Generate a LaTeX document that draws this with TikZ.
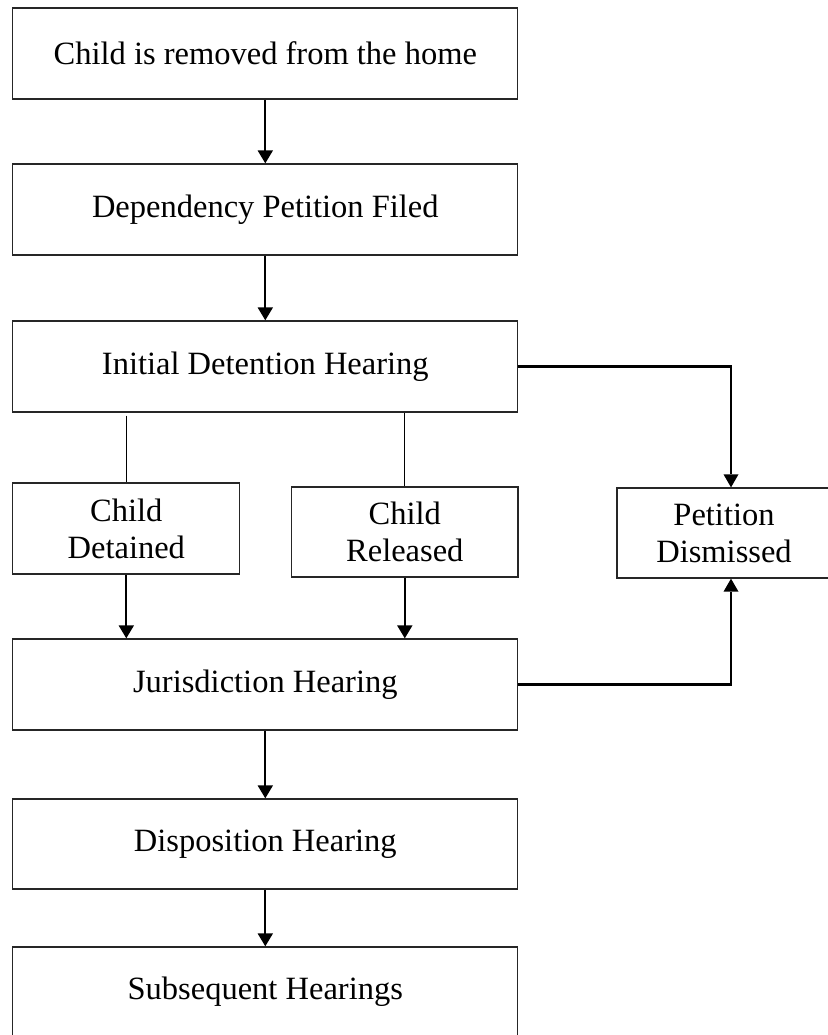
\documentclass[tikz,border=0pt]{standalone}
\usepackage{fontspec}
\setmainfont{Liberation Serif}
\usetikzlibrary{arrows.meta}
\begin{document}
\begin{tikzpicture}[x=1pt,y=-1pt,
  box/.style={draw=black!85, line width=1.3pt, fill=white, inner sep=0pt,
    align=center, font=\fontsize{32.5}{37}\selectfont},
  wide/.style={box, minimum width=505pt, minimum height=91pt},
  narrow/.style={box, minimum height=90pt},
  flow/.style={line width=2pt, -{Triangle[length=13pt,width=15pt]}},
  side/.style={line width=2.6pt, -{Triangle[length=13pt,width=15pt,line width=0pt]}},
  branch/.style={line width=1pt}]
\useasboundingbox (0,0) rectangle (827,1035);
\fill[white] (0,0) rectangle (827,1035);

% main column
\node[wide] (rem) at (265.3,53.5) {Child is removed from the home};
\node[wide] (pet) at (265.3,209.5) {Dependency Petition Filed};
\node[wide] (init) at (265.3,366.5) {Initial Detention Hearing};
\node[wide] (jur) at (265.3,684.5) {Jurisdiction Hearing};
\node[wide, minimum height=90pt] (disp) at (265.3,844) {Disposition Hearing};
\node[wide, minimum height=90pt] (subs) at (265.3,992) {Subsequent Hearings};

% outcomes of the detention hearing
\node[narrow, minimum width=227pt, minimum height=91pt] (det) at (126.3,528.5) {Child\\Detained};
\node[narrow, minimum width=226.5pt] (rel) at (404.8,532) {Child\\Released};
\node[narrow, minimum width=214pt] (dis) at (724,533) {Petition\\Dismissed};

\coordinate (disin) at ([xshift=7pt]dis.north);
\coordinate (disout) at ([xshift=7pt]dis.south);

% connectors
\draw[flow] (rem.south) -- (pet.north);
\draw[flow] (pet.south) -- (init.north);
\draw[branch, shorten <=3pt] (det.north |- init.south) -- (det.north);
\draw[branch] (rel.north |- init.south) -- (rel.north);
\draw[flow] (det.south) -- (det.south |- jur.north);
\draw[flow] (rel.south) -- (rel.south |- jur.north);
\draw[side] (init.east) -| (disin);
\draw[side] (jur.east) -| (disout);
\draw[flow] (jur.south) -- (disp.north);
\draw[flow] (disp.south) -- (subs.north);
\end{tikzpicture}
\end{document}
